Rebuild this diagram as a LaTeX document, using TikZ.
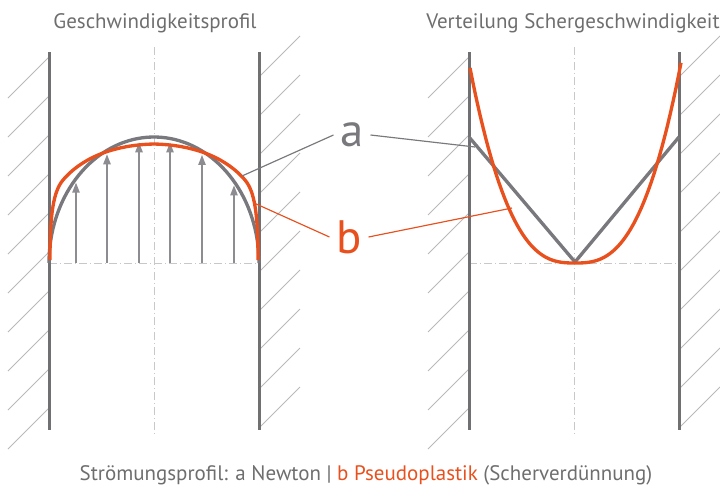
\documentclass[tikz,border=0pt]{standalone}
\usepackage{fontspec}
\setmainfont{PT Sans}
\usepackage{tikz}
\usetikzlibrary{arrows.meta, positioning, calc}
\definecolor{mywall}{RGB}{112,112,115}
\definecolor{mycurve}{RGB}{120,120,125}
\definecolor{myarrow}{RGB}{140,140,145}
\definecolor{myhatch}{RGB}{185,185,185}
\definecolor{myaxis}{RGB}{200,200,200}
\definecolor{myorange}{RGB}{232,80,30}
\definecolor{mytext}{RGB}{110,110,110}
\tikzset{
  wall/.style={line width=0.9mm, color=mywall},
  hatch/.style={line width=0.3mm, color=myhatch},
  axis/.style={line width=0.3mm, color=myaxis,
    dash pattern=on 2.4mm off 0.9mm on 0.3mm off 0.9mm},
  newton/.style={line width=1mm, color=mycurve, line join=round},
  pseudo/.style={line width=1mm, color=myorange, line join=round},
  velarrow/.style={-{Triangle[length=3mm, width=2.2mm]}, line width=0.45mm, color=myarrow},
  leader/.style={line width=0.35mm},
  title/.style={font=\fontsize{17.9}{21}\selectfont, text=mytext},
  letter/.style={font=\fontsize{40}{44}\selectfont, inner sep=2mm}
}

\begin{document}
\begin{tikzpicture}[x=0.3mm, y=-0.3mm]
  \useasboundingbox (0,0) rectangle (720,489);
  \clip (0,0) rectangle (720,489);

  % Walls, hatching and axes of both panels
  \foreach \dx in {0,420} {
    \begin{scope}[shift={(\dx,0)}]
      \foreach \k in {0,...,9} {
        \draw[hatch] (49,{57+39*\k}) -- ++(-41,41);
        \draw[hatch] (259,{77+39*\k}) -- ++(41,-41);
      }
      \draw[axis] (154,47) -- (154,437);
      \draw[axis] (49,263) -- (259,263);
      \draw[wall] (49,52) -- (49,430);
      \draw[wall] (259,52) -- (259,430);
    \end{scope}
  }

  % Velocity profile
  \foreach \xa in {76,107,139,170,202,234}
    \draw[velarrow] (\xa,263) -- (\xa,{263-126*sqrt(1-((\xa-154)/105)^2)+4});
  \draw[newton] plot[domain=180:0, samples=70] ({154+105*cos(\x)}, {263-126*sin(\x)});
  \draw[pseudo] (50,260) .. controls (50,215) and (53,192) .. (63,180)
    .. controls (80,160) and (110,145) .. (154,144)
    .. controls (198,145) and (228,160) .. (245,180)
    .. controls (255,192) and (258,215) .. (258,260);

  % Shear rate
  \draw[newton] (469,137) -- (575,262) -- (679,137);
  \draw[pseudo] plot[domain=-105:106, samples=81]
    ({575+\x}, {263-195*(abs(\x)/105+0.00001)^2.75});

  % Labels
  \node[letter, text=mycurve] (a) at (352,135) {a};
  \node[letter, text=myorange] (b) at (349,237) {b};
  \coordinate (aL) at (242,176);
  \coordinate (aR) at (475,147);
  \coordinate (bL) at (254,203);
  \coordinate (bR) at (512,208);
  \draw[leader, mycurve] (a.west) -- (aL);
  \draw[leader, mycurve] (a.east) -- (aR);
  \draw[leader, myorange] (b.west) -- (bL);
  \draw[leader, myorange] (b.east) -- (bR);

  % Titles
  \node[title] (ltitle) at (155,23) {Geschwindigkeitsprofil};
  \node[title] (rtitle) at (573,23) {Verteilung Schergeschwindigkeit};
  \node[title] (caption) at (366,475) {Strömungsprofil: a Newton | \textcolor{myorange}{b Pseudoplastik} (Scherverdünnung)};
\end{tikzpicture}
\end{document}
